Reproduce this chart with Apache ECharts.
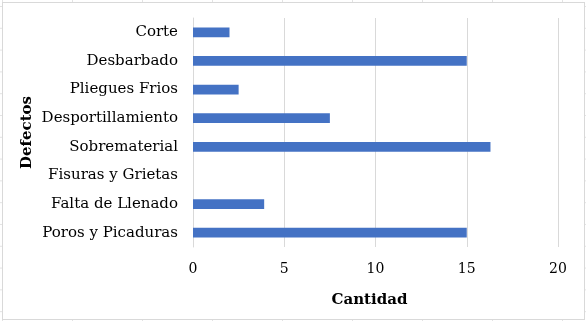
<!DOCTYPE html>
<html>
<head>
<meta charset="utf-8">
<script src="https://cdn.jsdelivr.net/npm/echarts@6/dist/echarts.min.js"></script>
<style>
  html, body { margin: 0; padding: 0; }
  body {
    width: 586px; height: 321px; position: relative; overflow: hidden;
    background-color: #fff;
    background-image:
      linear-gradient(to right, #e3e3e3 1px, transparent 1px),
      linear-gradient(to bottom, #e3e3e3 1px, transparent 1px);
    background-size: 70px 21.8px;
    background-position: 2px 6px;
  }
  #frame {
    position: absolute; left: 2px; top: 2px; width: 581px; height: 316px;
    background: #fff; border: 1px solid #d9d9d9;
  }
  #chart { position: absolute; left: 0; top: 0; width: 586px; height: 321px; }
</style>
</head>
<body>
<div id="frame"></div>
<div id="chart"></div>
<script>
// categories listed bottom to top (category axis on y starts at the bottom)
const categories = [
  'Poros y Picaduras',
  'Falta de Llenado',
  'Fisuras y Grietas',
  'Sobrematerial',
  'Desportillamiento',
  'Pliegues Frios',
  'Desbarbado',
  'Corte',
]
const cantidad = [15, 3.9, 0, 16.3, 7.5, 2.5, 15, 2]
const xTicks = [0, 5, 10, 15, 20]

const font = '"DejaVu Serif", serif'
const chart = echarts.init(document.getElementById('chart'), null, { renderer: 'canvas' })

chart.setOption({
  animation: false,
  backgroundColor: 'transparent',
  grid: { left: 193, right: 28, top: 18, bottom: 74 },
  xAxis: {
    type: 'value',
    min: xTicks[0],
    max: xTicks[xTicks.length - 1],
    interval: 5,
    name: 'Cantidad',
    nameLocation: 'middle',
    nameGap: 46,
    nameMoveOverlap: false,
    nameTextStyle: { fontFamily: font, fontSize: 15, fontWeight: 'bold', color: '#000', padding: [0, 12, 0, 0] },
    axisLine: { show: false },
    axisTick: { show: false },
    axisLabel: { fontFamily: font, fontSize: 14, color: '#000', margin: 15 },
    splitLine: { lineStyle: { color: '#d9d9d9', width: 1 } },
  },
  yAxis: {
    type: 'category',
    data: categories,
    name: 'Defectos',
    nameLocation: 'middle',
    nameGap: 158,
    nameRotate: 90,
    nameMoveOverlap: false,
    nameTextStyle: { fontFamily: font, fontSize: 15, fontWeight: 'bold', color: '#000' },
    axisLine: { show: true, lineStyle: { color: '#d9d9d9' } },
    axisTick: { show: false },
    axisLabel: { fontFamily: font, fontSize: 15, color: '#000', margin: 15 },
    splitLine: { show: false },
  },
  series: [{
    type: 'bar',
    data: cantidad,
    barWidth: '34%',
    itemStyle: { color: '#4472C4' },
  }],
})
</script>
</body>
</html>
